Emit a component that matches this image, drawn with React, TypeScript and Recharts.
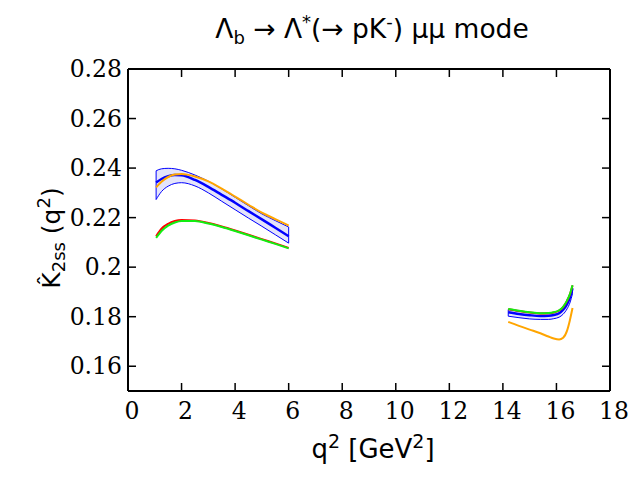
import React from "react";
import { ComposedChart, XAxis, YAxis, Area, Line, ReferenceLine } from "recharts";

// q^2 grid of the two kinematic windows
const qLow = [1.05, 1.25, 1.5, 1.75, 2.0, 2.5, 3.0, 3.5, 4.0, 4.5, 5.0, 5.5, 6.0];
const qHigh = [14.2, 14.6, 15.0, 15.4, 15.7, 15.9, 16.1, 16.25, 16.4, 16.5, 16.6];

// blue: central value with its uncertainty band
const centerLow = [0.2342, 0.2356, 0.2367, 0.2372, 0.2371, 0.2352, 0.2324, 0.2292, 0.226, 0.2226, 0.2193, 0.2159, 0.2125];
const upperLow = [0.2389, 0.2397, 0.2399, 0.2397, 0.2391, 0.2372, 0.2347, 0.2316, 0.2282, 0.2248, 0.2215, 0.2188, 0.2162];
const lowerLow = [0.2273, 0.2305, 0.2327, 0.2338, 0.2341, 0.2328, 0.23, 0.2266, 0.2232, 0.2198, 0.2165, 0.2131, 0.2097];
const centerHigh = [0.1818, 0.1811, 0.1806, 0.1803, 0.1804, 0.1807, 0.1814, 0.1828, 0.1852, 0.1876, 0.1915];
const upperHigh = [0.1829, 0.1822, 0.1817, 0.1814, 0.1815, 0.1818, 0.1825, 0.184, 0.1864, 0.1889, 0.1925];
const lowerHigh = [0.1802, 0.1796, 0.1791, 0.1789, 0.1789, 0.1792, 0.1798, 0.181, 0.1832, 0.1855, 0.1893];

// other curves
const orangeLow = [0.2322, 0.2345, 0.2364, 0.2374, 0.2376, 0.2366, 0.2346, 0.2317, 0.2285, 0.2252, 0.222, 0.2194, 0.2168];
const redLow = [0.2125, 0.2155, 0.2175, 0.2186, 0.219, 0.2188, 0.2178, 0.2164, 0.2148, 0.2131, 0.2113, 0.2096, 0.2078];
const greenLow = [0.2118, 0.2146, 0.2168, 0.218, 0.2186, 0.2186, 0.2176, 0.2162, 0.2146, 0.2129, 0.2111, 0.2094, 0.2076];
const orangeHigh = [0.1779, 0.1763, 0.1748, 0.1733, 0.172, 0.1712, 0.1708, 0.1715, 0.1745, 0.1785, 0.1835];
const redHigh = [0.183, 0.1823, 0.1817, 0.1813, 0.1814, 0.1817, 0.1825, 0.1839, 0.1865, 0.1889, 0.1926];
const greenHigh = [0.1831, 0.1824, 0.1818, 0.1814, 0.1815, 0.1818, 0.1826, 0.184, 0.1866, 0.189, 0.1927];

const xTicks = [0, 2, 4, 6, 8, 10, 12, 14, 16, 18];
const yTicks = [0.16, 0.18, 0.2, 0.22, 0.24, 0.26, 0.28];

const rowsLow = qLow.map((q, i) => ({
  q,
  center: centerLow[i],
  upper: upperLow[i],
  lower: lowerLow[i],
  band: [lowerLow[i], upperLow[i]],
  orange: orangeLow[i],
  red: redLow[i],
  green: greenLow[i],
}));
const rowsHigh = qHigh.map((q, i) => ({
  q,
  center: centerHigh[i],
  upper: upperHigh[i],
  lower: lowerHigh[i],
  band: [lowerHigh[i], upperHigh[i]],
  orange: orangeHigh[i],
  red: redHigh[i],
  green: greenHigh[i],
}));
// a null row in between so the curves break
const data = [...rowsLow, { q: 10, center: null, upper: null, lower: null, band: null, orange: null, red: null, green: null }, ...rowsHigh];

const BLUE = "#0000ff";
const TICK_LEN = 8;
const tickFont = { fontFamily: "DejaVu Serif", fontSize: 23.5, fill: "#000" };
const labelFont = "DejaVu Sans";

const BottomTick = (props: any) => {
  const { x, y, payload } = props;
  return (
    <g>
      <line x1={x} y1={y} x2={x} y2={y - TICK_LEN} stroke="#000" strokeWidth={1.5} />
      <text x={x + 4} y={y + 28} textAnchor="middle" {...tickFont}>{payload.value}</text>
    </g>
  );
};

const LeftTick = (props: any) => {
  const { x, y, payload } = props;
  return (
    <g>
      <line x1={x} y1={y} x2={x + TICK_LEN} y2={y} stroke="#000" strokeWidth={1.5} />
      <text x={x - 6} y={y + 8} textAnchor="end" {...tickFont}>{payload.value}</text>
    </g>
  );
};

const TopTick = (props: any) => {
  const { x, y } = props;
  return <line x1={x} y1={y} x2={x} y2={y + TICK_LEN} stroke="#000" strokeWidth={1.5} />;
};

const RightTick = (props: any) => {
  const { x, y } = props;
  return <line x1={x} y1={y} x2={x - TICK_LEN} y2={y} stroke="#000" strokeWidth={1.5} />;
};

const edge = (q: number, lo: number, hi: number, key: string) => (
  <ReferenceLine
    key={key}
    segment={[{ x: q, y: lo }, { x: q, y: hi }]}
    stroke={BLUE}
    strokeWidth={1}
    ifOverflow="visible"
  />
);

export default function App() {
  const last = qLow.length - 1;
  const lastH = qHigh.length - 1;
  return (
    <div style={{ position: "absolute", left: 0, top: 0, width: 640, height: 480, background: "#fff" }}>
      <ComposedChart width={640} height={480} data={data} margin={{ top: 68, right: 29, bottom: 59, left: 68 }}>
        <XAxis
          dataKey="q"
          type="number"
          domain={[0, 18]}
          ticks={xTicks}
          interval={0}
          tickSize={0}
          tickMargin={0}
          tickLine={false}
          height={30}
          axisLine={{ stroke: "#000", strokeWidth: 2 }}
          tick={<BottomTick />}
        />
        <XAxis
          xAxisId="top"
          orientation="top"
          dataKey="q"
          type="number"
          domain={[0, 18]}
          ticks={xTicks}
          interval={0}
          tickSize={0}
          tickMargin={0}
          tickLine={false}
          height={1}
          axisLine={{ stroke: "#000", strokeWidth: 2 }}
          tick={<TopTick />}
        />
        <YAxis
          type="number"
          domain={[0.15, 0.28]}
          ticks={yTicks}
          interval={0}
          tickSize={0}
          tickMargin={0}
          tickLine={false}
          width={60}
          allowDataOverflow
          axisLine={{ stroke: "#000", strokeWidth: 2 }}
          tick={<LeftTick />}
        />
        <YAxis
          yAxisId="right"
          orientation="right"
          type="number"
          domain={[0.15, 0.28]}
          ticks={yTicks}
          interval={0}
          tickSize={0}
          tickMargin={0}
          tickLine={false}
          width={1}
          allowDataOverflow
          axisLine={{ stroke: "#000", strokeWidth: 2 }}
          tick={<RightTick />}
        />

        <Area type="monotone" dataKey="band" fill="#e4e4fa" fillOpacity={1} stroke="none" isAnimationActive={false} />
        {edge(qLow[0], lowerLow[0], upperLow[0], "e1")}
        {edge(qLow[last], lowerLow[last], upperLow[last], "e2")}
        {edge(qHigh[0], lowerHigh[0], upperHigh[0], "e3")}
        {edge(qHigh[lastH], lowerHigh[lastH], upperHigh[lastH], "e4")}
        <Line type="monotone" dataKey="upper" stroke={BLUE} strokeWidth={1} dot={false} isAnimationActive={false} />
        <Line type="monotone" dataKey="lower" stroke={BLUE} strokeWidth={1} dot={false} isAnimationActive={false} />
        <Line type="monotone" dataKey="center" stroke={BLUE} strokeWidth={2.5} dot={false} isAnimationActive={false} />
        <Line type="monotone" dataKey="orange" stroke="#ffa500" strokeWidth={2} dot={false} isAnimationActive={false} />
        <Line type="monotone" dataKey="red" stroke="#ff0000" strokeWidth={2} dot={false} isAnimationActive={false} />
        <Line type="monotone" dataKey="green" stroke="#11ee11" strokeWidth={2} dot={false} isAnimationActive={false} />
      </ComposedChart>

      <svg width={640} height={480} style={{ position: "absolute", left: 0, top: 0, pointerEvents: "none" }}>
        <text x={372} y={38} textAnchor="middle" fontFamily={labelFont} fontSize={26.5} fill="#000">
          Λ<tspan fontSize={18} dy={6}>b</tspan>
          <tspan dy={-6}> → Λ</tspan>
          <tspan fontSize={18} dy={-10}>*</tspan>
          <tspan dy={10}>(→ pK</tspan>
          <tspan fontSize={18} dy={-10}>-</tspan>
          <tspan dy={10}>) μμ mode</tspan>
        </text>
        <text x={373} y={458} textAnchor="middle" fontFamily={labelFont} fontSize={26} fill="#000">
          q<tspan fontSize={19} dy={-10}>2</tspan>
          <tspan dy={10}> [GeV</tspan>
          <tspan fontSize={19} dy={-10}>2</tspan>
          <tspan dy={10}>]</tspan>
        </text>
        <text transform="translate(60,238) rotate(-90)" textAnchor="middle" fontFamily={labelFont} fontSize={25} fill="#000">
          K̂<tspan fontSize={18} dy={5}>2ss</tspan>
          <tspan dy={-5}> (q</tspan>
          <tspan fontSize={18} dy={-10}>2</tspan>
          <tspan dy={10}>)</tspan>
        </text>
      </svg>
    </div>
  );
}
